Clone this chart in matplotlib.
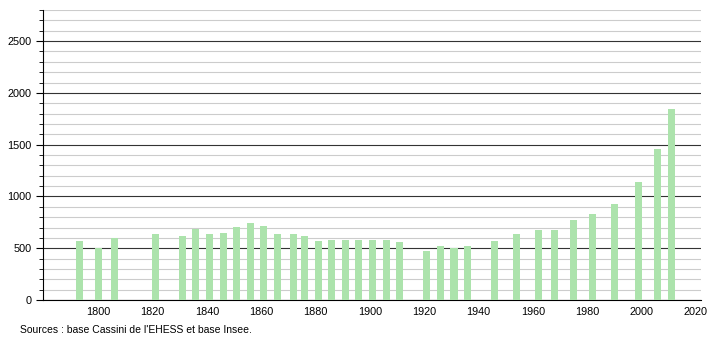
import matplotlib
matplotlib.use("Agg")
import matplotlib.pyplot as plt
from matplotlib.ticker import MultipleLocator

plt.rcParams['font.family'] = ['Liberation Sans', 'DejaVu Sans']

years = [1793, 1800, 1806, 1821, 1831, 1836, 1841, 1846, 1851, 1856,
         1861, 1866, 1872, 1876, 1881, 1886, 1891, 1896, 1901, 1906,
         1911, 1921, 1926, 1931, 1936, 1946, 1954, 1962, 1968, 1975,
         1982, 1990, 1999, 2006, 2011]
population = [573, 505, 598, 642, 615, 683, 640, 650, 705, 740,
              716, 642, 642, 618, 572, 583, 583, 583, 583, 583,
              562, 477, 522, 503, 522, 570, 637, 676, 676, 772,
              830, 926, 1135, 1455, 1846]
source = "Sources : base Cassini de l'EHESS et base Insee."

fig = plt.figure(figsize=(7.1, 3.4), dpi=100)
ax = fig.add_axes([0.0606, 0.1176, 0.927, 0.853])

ax.bar(years, population, width=2.6, color='#ace3ac', zorder=3)

ax.set_xlim(1779.7, 2022)
ax.set_ylim(0, 2800)
ax.xaxis.set_major_locator(MultipleLocator(20))
ax.yaxis.set_major_locator(MultipleLocator(500))
ax.yaxis.set_minor_locator(MultipleLocator(100))
ax.grid(which='minor', axis='y', color='#cccccc', linewidth=0.8, zorder=1)
ax.grid(which='major', axis='y', color='#333333', linewidth=0.8, zorder=2)

for s in ['top', 'right']:
    ax.spines[s].set_visible(False)
ax.spines['left'].set_color('black')
ax.spines['bottom'].set_color('black')
ax.tick_params(axis='x', length=0, labelsize=7.8, pad=5)
ax.tick_params(axis='y', which='major', length=5, labelsize=7.8)
ax.tick_params(axis='y', which='minor', length=3)
ax.set_xticks([1800, 1820, 1840, 1860, 1880, 1900, 1920, 1940, 1960, 1980, 2000, 2020])

fig.text(0.028, 0.022, source, fontsize=7.5)

fig.savefig("out.png", dpi=100)
